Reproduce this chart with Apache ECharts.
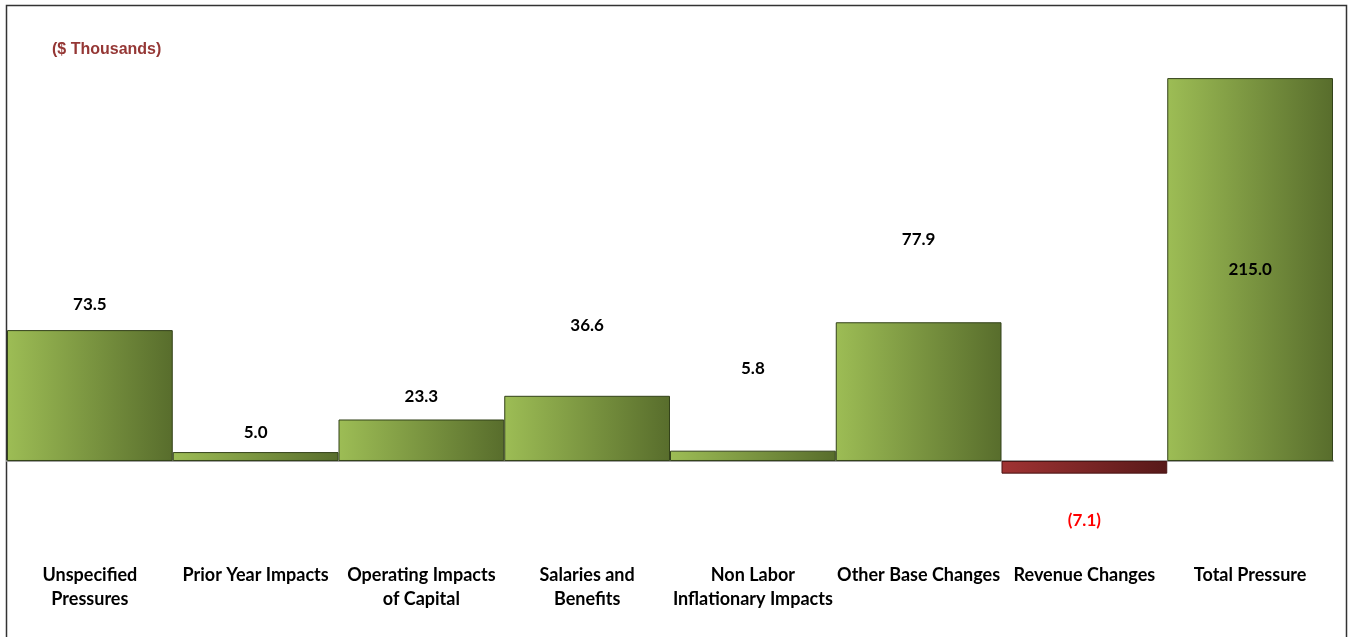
<!DOCTYPE html>
<html>
<head>
<meta charset="utf-8">
<style>
  html, body { margin: 0; padding: 0; background: #fff; }
  #chart { width: 1351px; height: 637px; }
</style>
<script src="https://cdn.jsdelivr.net/npm/echarts@6/dist/echarts.min.js"></script>
</head>
<body>
<div id="chart"></div>
<script>
// categories and values ($ thousands)
const categories = [
    'Unspecified\nPressures',
    'Prior Year Impacts',
    'Operating Impacts\nof Capital',
    'Salaries and\nBenefits',
    'Non Labor\nInflationary Impacts',
    'Other Base Changes',
    'Revenue Changes',
    'Total Pressure'
];
const values = [73.5, 5.0, 23.3, 36.6, 5.8, 77.9, -7.1, 215.0];

// label placement as in the original (gap above bar top, px); null = inside
const labelGap = [17, 11, 14, 62, 74, 74, 38, null];

const font = 'Lato, "Noto Sans", sans-serif';

const greenFill = new echarts.graphic.LinearGradient(0, 0, 1, 0, [
    {offset: 0, color: '#9dbd55'},
    {offset: 1, color: '#586d2c'}
]);
const redFill = new echarts.graphic.LinearGradient(0, 0, 1, 0, [
    {offset: 0, color: '#a03333'},
    {offset: 1, color: '#571919'}
]);

function fmt(v) {
    return v < 0 ? '(' + Math.abs(v).toFixed(1) + ')' : v.toFixed(1);
}

const barData = values.map(function (v, i) {
    const neg = v < 0;
    const item = {
        value: v,
        itemStyle: {
            color: neg ? redFill : greenFill,
            borderColor: neg ? '#4a1515' : '#33421a',
            borderWidth: 1
        },
        label: {}
    };
    if (labelGap[i] === null) {
        item.label.position = 'inside';
    } else {
        item.label.position = neg ? 'bottom' : 'top';
        item.label.distance = labelGap[i];
    }
    if (neg) item.label.color = '#ff0000';
    return item;
});

const chart = echarts.init(document.getElementById('chart'));

const option = {
    animation: false,
    graphic: [
        {
            type: 'rect',
            shape: {x: 6.5, y: 5.5, width: 1340, height: 640},
            style: {fill: 'none', stroke: '#333', lineWidth: 1.5},
            silent: true
        },
        {
            type: 'text',
            left: 52,
            top: 42,
            style: {
                text: '($ Thousands)',
                fill: '#953735',
                font: 'bold 16px "Liberation Sans", Arial, sans-serif'
            }
        }
    ],
    grid: {
        left: 7,
        right: 18,
        top: 69.2,
        bottom: 158.2
    },
    xAxis: {
        type: 'category',
        data: categories,
        axisLine: {onZero: true, lineStyle: {color: '#a0a0a0', width: 2}},
        axisTick: {show: false},
        axisLabel: {
            interval: 0,
            margin: 84,
            color: '#000',
            fontFamily: font,
            fontWeight: 'bold',
            fontSize: 18,
            lineHeight: 24
        }
    },
    yAxis: {
        type: 'value',
        min: -10,
        max: 220,
        show: false,
        splitLine: {show: false}
    },
    series: [
        {
            type: 'bar',
            data: barData,
            barWidth: '100%',
            barCategoryGap: 0,
            label: {
                show: true,
                color: '#000',
                fontFamily: font,
                fontWeight: 'bold',
                fontSize: 17,
                formatter: function (p) { return fmt(p.value); }
            }
        }
    ]
};

chart.setOption(option);

window.addEventListener('resize', function () {
    chart.resize();
});
</script>
</body>
</html>
